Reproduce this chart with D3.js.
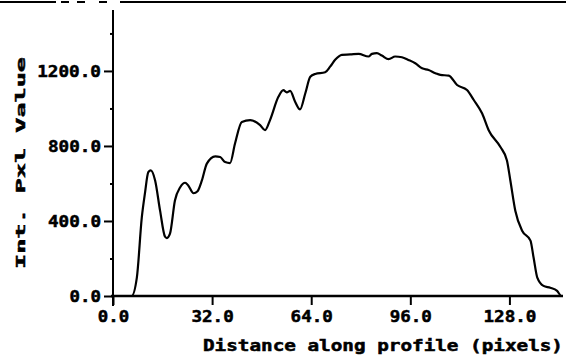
<!DOCTYPE html>
<html>
<head>
<meta charset="utf-8">
<script src="https://cdn.jsdelivr.net/npm/d3@7"></script>
<style>
  html, body { margin: 0; padding: 0; background: #fff; }
  svg { display: block; }
  text { font-family: "DejaVu Sans Mono", "Liberation Mono", monospace; font-weight: bold; fill: #000; stroke: #000; stroke-width: 0.5px; }
</style>
</head>
<body>
<svg id="chart" width="568" height="362"></svg>
<script>
// Intensity profile sampled along a line (distance in pixels)
const distance = [0, 6.0, 7.7, 9.3, 10.3, 11.4, 12.2, 13.6, 15.2, 16.8,
  17.4, 18.4, 20.0, 21.7, 23.3, 24.3, 26.0, 27.3, 28.7, 30.3,
  33.0, 34.6, 36.2, 37.8, 39.4, 41.6, 44.3, 47.5, 49.1, 50.7,
  53.4, 55.0, 56.1, 57.2, 58.8, 60.4, 62.1, 63.7, 65.3, 68.5,
  70.1, 71.8, 73.9, 76.6, 79.3, 82.5, 83.6, 85.2, 86.8, 89.0,
  91.1, 93.3, 95.4, 97.6, 99.8, 101.9, 104.1, 105.7, 108.4, 111.1,
  114.3, 116.5, 119.2, 121.3, 125.1, 127.2, 128.3, 129.9, 132.1, 134.8,
  135.8, 137.0, 139.0, 141.2, 143.4, 144.8, 145.3];
const intensity = [0, 0, 98, 419, 546, 660, 670, 616, 455, 316,
  309, 332, 509, 580, 604, 589, 548, 559, 616, 706,
  745, 741, 714, 709, 813, 928, 938, 911, 884, 938,
  1062, 1098, 1086, 1094, 1036, 995, 1081, 1169, 1184, 1193,
  1223, 1261, 1286, 1288, 1291, 1277, 1291, 1295, 1282, 1263,
  1277, 1273, 1259, 1241, 1214, 1205, 1188, 1179, 1175, 1125,
  1098, 1045, 973, 884, 794, 723, 616, 455, 348, 295,
  205, 98, 54, 44, 27, 0, 0];

const xTicks = [0, 32, 64, 96, 128];
const yTicks = [0, 400, 800, 1200];
const yMinorTicks = [200, 600, 1000, 1400];
const xTitle = "Distance along profile (pixels)";
const yTitle = "Int. Pxl Value";

const svg = d3.select("#chart");

const x = d3.scaleLinear().domain([0, 145.3]).range([113, 563]);
const y = d3.scaleLinear().domain([0, 1525]).range([296, 10]);

const fmt = d3.format(".1f");
const charW = 10.8;

// frame rule across the top of the plot
svg.append("line")
  .attr("x1", 0).attr("x2", 566).attr("y1", 2).attr("y2", 2)
  .attr("stroke", "#000").attr("stroke-width", 2)
  .attr("stroke-dasharray", "56 5 8 8 8 14 8 13 450 4 2");

// y axis: major labelled ticks
const yAxis = svg.append("g")
  .attr("transform", `translate(${x(0)},0)`)
  .call(d3.axisLeft(y).tickValues(yTicks).tickFormat(fmt).tickSize(9).tickPadding(3).tickSizeOuter(0));
yAxis.select(".domain").remove();
yAxis.selectAll(".tick line").attr("stroke", "#000").attr("stroke-width", 2);
yAxis.selectAll(".tick text")
  .attr("font-size", 16)
  .attr("font-family", null)
  .attr("dy", "0.36em")
  .attr("textLength", d => fmt(d).length * charW - 1)
  .attr("lengthAdjust", "spacingAndGlyphs");

// y axis: minor ticks
const yMinor = svg.append("g")
  .attr("transform", `translate(${x(0)},0)`)
  .call(d3.axisLeft(y).tickValues(yMinorTicks).tickFormat("").tickSize(3).tickSizeOuter(0));
yMinor.select(".domain").remove();
yMinor.selectAll(".tick line").attr("stroke", "#000").attr("stroke-width", 2);

// y axis line, running a little below the x axis
svg.append("line")
  .attr("x1", x(0)).attr("x2", x(0))
  .attr("y1", y(1525)).attr("y2", y(0) + 10)
  .attr("stroke", "#000").attr("stroke-width", 2);

// x axis
const xAxis = svg.append("g")
  .attr("transform", `translate(0,${y(0)})`)
  .call(d3.axisBottom(x).tickValues(xTicks).tickFormat(fmt).tickSize(9).tickPadding(6).tickSizeOuter(0));
xAxis.select(".domain").remove();
xAxis.selectAll(".tick line").attr("stroke", "#000").attr("stroke-width", 2);
xAxis.selectAll(".tick text")
  .attr("font-size", 16)
  .attr("font-family", null)
  .attr("dy", "0.71em")
  .attr("textLength", d => fmt(d).length * charW - 1)
  .attr("lengthAdjust", "spacingAndGlyphs");

svg.append("line")
  .attr("x1", x(0) - 2).attr("x2", x(145.3))
  .attr("y1", y(0)).attr("y2", y(0))
  .attr("stroke", "#000").attr("stroke-width", 2.5);

// profile curve
const line = d3.line()
  .x((d, i) => x(distance[i]))
  .y(d => y(d))
  .curve(d3.curveMonotoneX);

svg.append("path")
  .datum(intensity)
  .attr("d", line)
  .attr("fill", "none")
  .attr("stroke", "#000")
  .attr("stroke-width", 2.2)
  .attr("stroke-linejoin", "round");

// axis titles
svg.append("text")
  .attr("x", 383).attr("y", 351)
  .attr("text-anchor", "middle")
  .attr("font-size", 15)
  .attr("textLength", 360)
  .attr("lengthAdjust", "spacingAndGlyphs")
  .text(xTitle);

svg.append("text")
  .attr("transform", "translate(25,163) rotate(-90)")
  .attr("text-anchor", "middle")
  .attr("font-size", 13)
  .attr("textLength", 212)
  .attr("lengthAdjust", "spacingAndGlyphs")
  .text(yTitle);
</script>
</body>
</html>
